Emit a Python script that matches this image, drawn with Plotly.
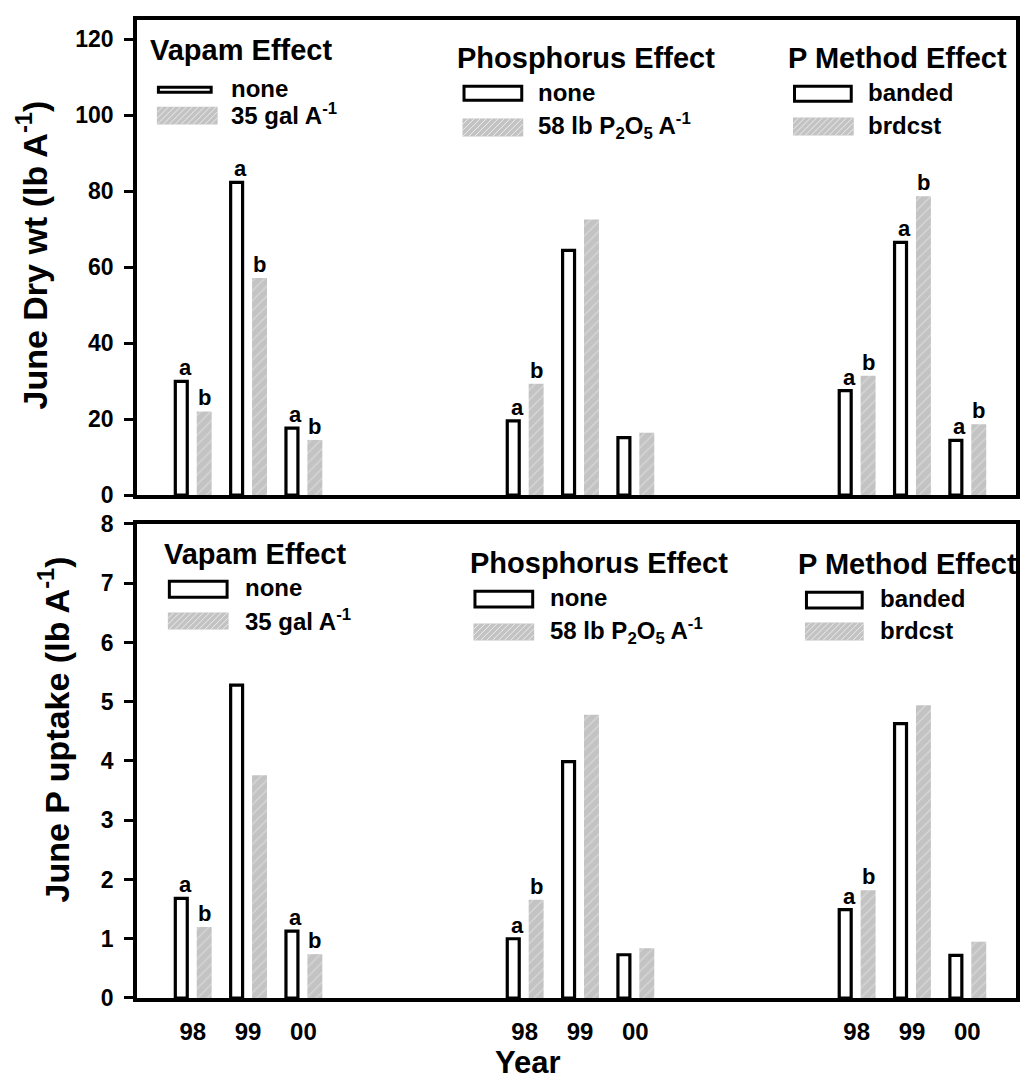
import plotly.graph_objects as go

# ---------------- data ----------------
years = ["98", "99", "00"]
group_titles = ["Vapam Effect", "Phosphorus Effect", "P Method Effect"]
ctrl_names = ["none", "none", "banded"]
trt_names = ["35 gal A<sup>-1</sup>", "58 lb P<sub>2</sub>O<sub>5</sub> A<sup>-1</sup>", "brdcst"]

# June dry weight (lb A-1): rows = effect group, cols = year
dry_ctrl = [[29.9, 82.3, 17.6], [19.5, 64.4, 15.1], [27.5, 66.5, 14.4]]
dry_trt = [[22.0, 57.1, 14.5], [29.3, 72.5, 16.4], [31.4, 78.6, 18.6]]
dry_ctrl_let = [["a", "a", "a"], ["a", "", ""], ["a", "a", "a"]]
dry_trt_let = [["b", "b", "b"], ["b", "", ""], ["b", "b", "b"]]

# June P uptake (lb A-1)
up_ctrl = [[1.68, 5.28, 1.13], [1.00, 3.99, 0.73], [1.49, 4.63, 0.72]]
up_trt = [[1.20, 3.76, 0.74], [1.66, 4.78, 0.84], [1.82, 4.94, 0.95]]
up_ctrl_let = [["a", "", "a"], ["a", "", ""], ["a", "", ""]]
up_trt_let = [["b", "", "b"], ["b", "", ""], ["b", "", ""]]

# ---------------- layout helpers ----------------
W, H = 1027, 1080
ML, MR, MT, MB = 137, 7, 16, 82
PW, PH = W - ML - MR, H - MT - MB


def pxx(x):
    return (x - ML) / PW


def pxy(y):
    return (H - MB - y) / PH


FONT = "Liberation Sans, Arial, Helvetica, sans-serif"
GRAY = "#c3c3c3"
HATCH = "#ececec"

positions = [g * 6 + 1 + i for g in range(3) for i in range(3)]
tick_text = [years[i] for g in range(3) for i in range(3)]

W_CTRL, OFF_CTRL = 0.216, -0.315
W_TRT, OFF_TRT = 0.27, 0.072
C_CTRL = OFF_CTRL + W_CTRL / 2
C_TRT = OFF_TRT + W_TRT / 2


def flat(a):
    return [v for row in a for v in row]


fig = go.Figure()
annotations = []
shapes = []

panels = [
    ("x", "y", dry_ctrl, dry_trt, dry_ctrl_let, dry_trt_let),
    ("x2", "y2", up_ctrl, up_trt, up_ctrl_let, up_trt_let),
]

for xa, ya, c, t, cl, tl in panels:
    fig.add_trace(go.Bar(
        x=positions, y=flat(c), width=W_CTRL, offset=OFF_CTRL,
        marker=dict(color="white", line=dict(color="black", width=3.2)),
        xaxis=xa, yaxis=ya, showlegend=False, hoverinfo="skip"))
    fig.add_trace(go.Bar(
        x=positions, y=flat(t), width=W_TRT, offset=OFF_TRT,
        marker=dict(color=GRAY, line=dict(width=0),
                    pattern=dict(shape="/", fgcolor=HATCH, bgcolor=GRAY,
                                 size=7, solidity=0.18)),
        xaxis=xa, yaxis=ya, showlegend=False, hoverinfo="skip"))
    for p, v, l in zip(positions, flat(c), flat(cl)):
        if l:
            annotations.append(dict(x=p + C_CTRL, y=v, xref=xa, yref=ya, text=l,
                                    showarrow=False, xanchor="center", yanchor="bottom",
                                    xshift=4, yshift=-1,
                                    font=dict(family=FONT, size=22, color="black", weight="bold")))
    for p, v, l in zip(positions, flat(t), flat(tl)):
        if l:
            annotations.append(dict(x=p + C_TRT, y=v, xref=xa, yref=ya, text=l,
                                    showarrow=False, xanchor="center", yanchor="bottom", yshift=-1,
                                    font=dict(family=FONT, size=22, color="black", weight="bold")))

# ---------------- custom legends ----------------
legend_boxes = [
    dict(tx=148, ty=46, ws=(157, 82, 213, 90), ly1=85, gs=(157, 103, 218, 121), ly2=110, lx=229),
    dict(tx=456, ty=54, ws=(464, 81, 525, 98), ly1=89, gs=(464, 115, 525, 133), ly2=122, lx=538),
    dict(tx=789, ty=54, ws=(796, 81, 856, 99), ly1=89, gs=(796, 114, 857, 132), ly2=122, lx=869),
    dict(tx=162, ty=552, ws=(168, 578, 229, 597), ly1=586, gs=(168, 611, 229, 628), ly2=618, lx=243),
    dict(tx=470, ty=561, ws=(475, 588, 536, 607), ly1=596, gs=(475, 622, 536, 639), ly2=629, lx=550),
    dict(tx=799, ty=562, ws=(808, 589, 867, 608), ly1=597, gs=(808, 621, 867, 639), ly2=629, lx=881),
]


def hatch_path(x0, y0, x1, y1, step=6):
    segs = []
    h = y1 - y0
    k = x0 - h
    while k < x1:
        ax, ay = k, y1
        bx, by = k + h, y0
        if ax < x0:
            ay = y1 - (x0 - ax)
            ax = x0
        if bx > x1:
            by = y0 + (bx - x1)
            bx = x1
        if bx > ax:
            segs.append(f"M{pxx(ax)},{pxy(ay)} L{pxx(bx)},{pxy(by)}")
        k += step
    return " ".join(segs)


for gi, b in enumerate(legend_boxes):
    g = gi % 3
    annotations.append(dict(x=pxx(b["tx"]), y=pxy(b["ty"]), xref="paper", yref="paper",
                            text=group_titles[g], showarrow=False, xanchor="left", yanchor="middle",
                            font=dict(family=FONT, size=29, color="black", weight="bold")))
    annotations.append(dict(x=pxx(b["lx"]), y=pxy(b["ly1"]), xref="paper", yref="paper",
                            text=ctrl_names[g], showarrow=False, xanchor="left", yanchor="middle",
                            font=dict(family=FONT, size=24, color="black", weight="bold")))
    annotations.append(dict(x=pxx(b["lx"]), y=pxy(b["ly2"]), xref="paper", yref="paper",
                            text=trt_names[g], showarrow=False, xanchor="left", yanchor="middle",
                            font=dict(family=FONT, size=24, color="black", weight="bold")))
    x0, y0, x1, y1 = b["ws"]
    shapes.append(dict(type="rect", xref="paper", yref="paper",
                       x0=pxx(x0 + 1.5), x1=pxx(x1 - 1.5), y0=pxy(y0 + 1.5), y1=pxy(y1 - 1.5),
                       fillcolor="white", line=dict(color="black", width=3)))
    x0, y0, x1, y1 = b["gs"]
    shapes.append(dict(type="rect", xref="paper", yref="paper",
                       x0=pxx(x0), x1=pxx(x1), y0=pxy(y0), y1=pxy(y1),
                       fillcolor=GRAY, line=dict(width=0)))
    shapes.append(dict(type="path", xref="paper", yref="paper",
                       path=hatch_path(x0, y0, x1, y1),
                       line=dict(color=HATCH, width=1)))

# axis titles
annotations.append(dict(x=pxx(31), y=pxy(252), xref="paper", yref="paper",
                        xanchor="center", yanchor="middle",
                        text="June Dry wt (lb A<sup>-1</sup>)", textangle=-90, showarrow=False,
                        font=dict(family=FONT, size=34, color="black", weight="bold")))
annotations.append(dict(x=pxx(53), y=pxy(728), xref="paper", yref="paper",
                        xanchor="center", yanchor="middle",
                        text="June P uptake (lb A<sup>-1</sup>)", textangle=-90, showarrow=False,
                        font=dict(family=FONT, size=34, color="black", weight="bold")))
annotations.append(dict(x=pxx(530), y=pxy(1063), xref="paper", yref="paper",
                        xanchor="center", yanchor="middle",
                        text="Year", showarrow=False,
                        font=dict(family=FONT, size=31, color="black", weight="bold")))

top_dom = [pxy(493), 1.0]
bot_dom = [0.0, pxy(522)]
xrange_ = [-0.0075, 15.88]

axis_common = dict(showline=True, linecolor="black", linewidth=3.5, mirror=True,
                   showgrid=False, zeroline=False)

fig.update_layout(
    width=W, height=H,
    margin=dict(l=ML, r=MR, t=MT, b=MB),
    paper_bgcolor="white", plot_bgcolor="white",
    barmode="overlay",
    showlegend=False,
    font=dict(family=FONT, color="black"),
    xaxis=dict(domain=[0, 1], range=xrange_, anchor="y", showticklabels=False, ticks="",
               **axis_common),
    yaxis=dict(domain=top_dom, range=[0, 125], anchor="x", tickvals=list(range(0, 121, 20)),
               ticks="outside", ticklen=9, tickwidth=3, tickcolor="black", ticklabelstandoff=6,
               tickfont=dict(family=FONT, size=23, color="black", weight="bold"),
               **axis_common),
    xaxis2=dict(domain=[0, 1], range=xrange_, anchor="y2", tickvals=positions, ticktext=tick_text,
                ticks="", ticklabelstandoff=9,
                tickfont=dict(family=FONT, size=24, color="black", weight="bold"),
                **axis_common),
    yaxis2=dict(domain=bot_dom, range=[0, 8], anchor="x2", tickvals=list(range(0, 9)),
                ticks="outside", ticklen=9, tickwidth=3, tickcolor="black", ticklabelstandoff=6,
                tickfont=dict(family=FONT, size=23, color="black", weight="bold"),
                **axis_common),
    annotations=annotations,
    shapes=shapes,
)

fig.write_html("out.html", config={"displayModeBar": False},
               post_script="document.body.style.margin='0px';document.body.style.overflow='hidden';")
